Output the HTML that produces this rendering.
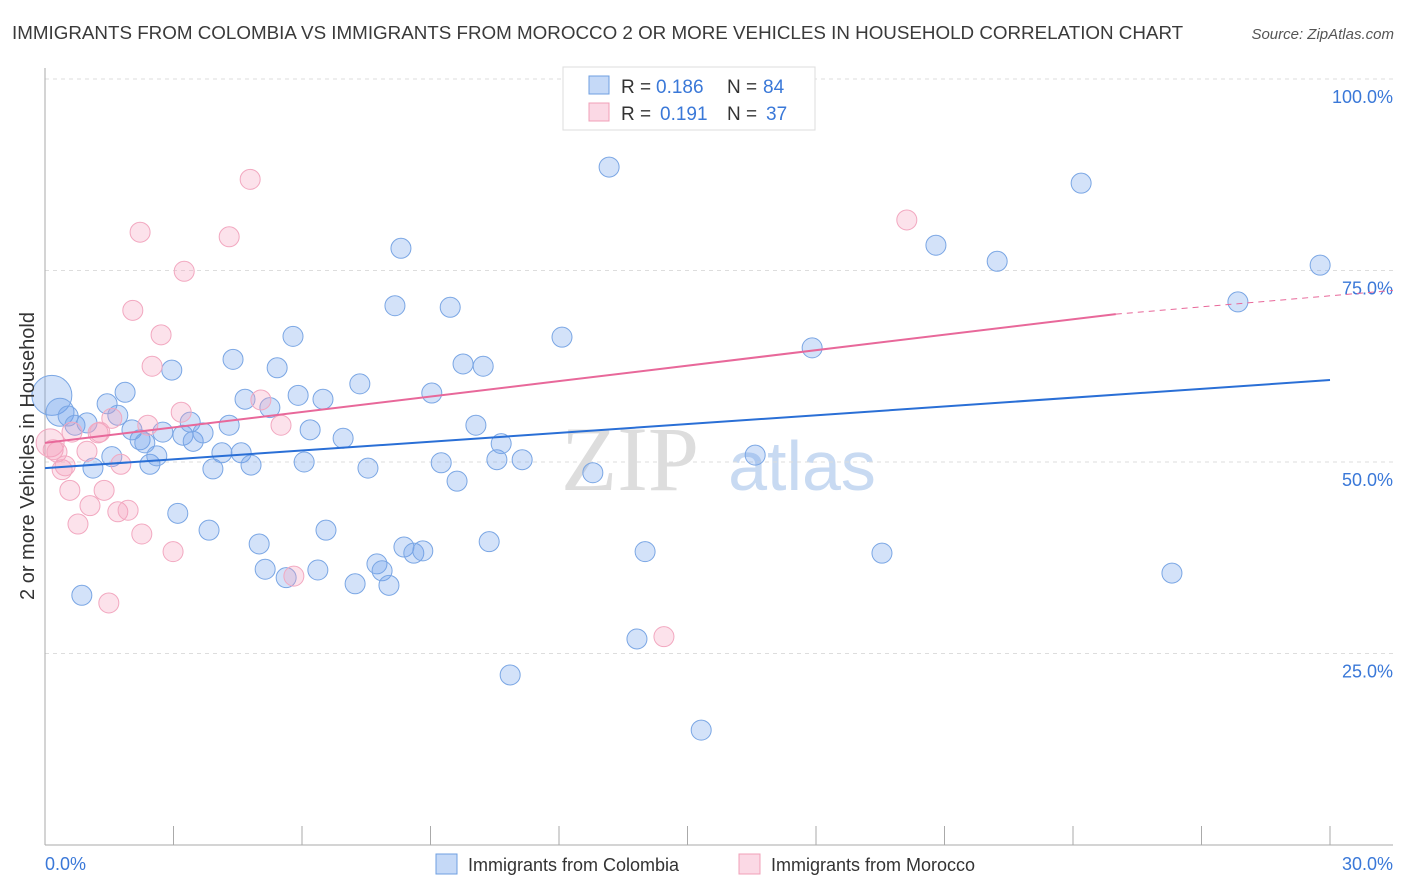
<!DOCTYPE html>
<html><head><meta charset="utf-8"><style>
body{margin:0;background:#fff;font-family:"Liberation Sans",sans-serif;}
#wrap{position:relative;width:1406px;height:892px;overflow:hidden;}
</style></head><body>
<div id="wrap">
<svg id="svg" width="1406" height="892" xmlns="http://www.w3.org/2000/svg">
<text x="12" y="39" font-size="18.8" fill="#3a3a3a">IMMIGRANTS FROM COLOMBIA VS IMMIGRANTS FROM MOROCCO 2 OR MORE VEHICLES IN HOUSEHOLD CORRELATION CHART</text>
<text x="1394" y="39" font-size="15" fill="#555" font-style="italic" text-anchor="end">Source: ZipAtlas.com</text>
<text x="630" y="490" font-size="92" fill="#ddd" font-family="Liberation Serif,serif" text-anchor="middle">ZIP</text>
<text x="802" y="490" font-size="70" fill="#c8daf2" text-anchor="middle">atlas</text>
<g id="grid"></g><g id="axes"></g><g id="pts"></g><g id="lines"></g>
<text transform="translate(34,456) rotate(-90)" font-size="20" fill="#333" text-anchor="middle">2 or more Vehicles in Household</text>
<g>
<rect x="563" y="67" width="252" height="63" fill="#fff" stroke="#ddd"/>
<rect x="589" y="76" width="20" height="18" fill="rgba(110,160,235,0.4)" stroke="#6f9fe0"/>
<rect x="589" y="103" width="20" height="18" fill="rgba(245,160,190,0.4)" stroke="#f0a0b8"/>
<text x="621" y="93" font-size="19" fill="#333">R =</text>
<text x="656" y="93" font-size="19" fill="#3a78d8">0.186</text>
<text x="727" y="93" font-size="19" fill="#333">N =</text>
<text x="763" y="93" font-size="19" fill="#3a78d8">84</text>
<text x="621" y="120" font-size="19" fill="#333">R =</text>
<text x="660" y="120" font-size="19" fill="#3a78d8">0.191</text>
<text x="727" y="120" font-size="19" fill="#333">N =</text>
<text x="766" y="120" font-size="19" fill="#3a78d8">37</text>
</g>
<g>
<rect x="436" y="854" width="21" height="20" fill="rgba(110,160,235,0.4)" stroke="#6f9fe0"/>
<text x="468" y="871" font-size="18" fill="#333">Immigrants from Colombia</text>
<rect x="739" y="854" width="21" height="20" fill="rgba(245,160,190,0.4)" stroke="#f0a0b8"/>
<text x="771" y="871" font-size="18" fill="#333">Immigrants from Morocco</text>
</g>
</svg></div>
<script>
const yTicks=[25,50,75,100];
const yTickLabels=["25.0%","50.0%","75.0%","100.0%"];
const xTickLabels=["0.0%","30.0%"];
const blueX=[0.16,0.35,0.54,0.70,0.98,1.12,0.86,1.45,1.56,1.70,1.87,2.03,2.22,2.33,2.45,2.61,2.75,2.96,3.10,3.22,3.39,3.46,3.69,3.83,3.92,4.13,4.30,4.39,4.58,4.67,4.81,5.00,5.14,5.25,5.42,5.63,5.79,5.91,6.05,6.19,6.37,6.49,6.56,6.96,7.24,7.35,7.54,7.75,7.87,8.03,8.17,8.31,8.38,8.61,8.82,9.03,9.25,9.46,9.62,9.76,10.06,10.23,10.37,10.55,10.65,10.86,11.14,12.07,12.79,13.17,13.82,14.01,15.32,16.58,17.91,19.54,20.80,22.23,24.19,26.31,27.85,29.77];
const blueY=[58.7,56.5,56.0,54.8,55.1,49.2,32.6,57.6,50.7,56.1,59.1,54.2,52.9,52.5,49.7,50.8,53.9,62.0,43.3,53.5,55.2,52.7,53.8,41.1,49.1,51.2,54.8,63.4,51.2,58.2,49.6,39.3,36.0,57.1,62.3,34.9,66.4,58.7,50.0,54.2,35.9,58.2,41.1,53.1,34.1,60.2,49.2,36.7,35.8,33.9,70.4,77.9,38.9,38.1,38.4,59.0,49.9,70.2,47.5,62.8,54.8,62.5,39.6,50.3,52.4,22.2,50.3,66.3,48.6,88.5,26.9,38.3,15.0,50.9,64.9,38.1,78.3,76.2,86.4,35.5,70.9,75.7];
const blueR=[20,14];
const pinkX=[0.12,0.19,0.28,0.40,0.47,0.58,0.77,0.98,1.05,1.24,1.38,1.49,1.56,1.70,1.77,1.94,2.05,2.22,2.26,2.40,2.50,2.71,2.99,3.18,3.25,4.30,4.79,5.04,5.51,5.81,14.45,20.12,1.28,0.63];
const pinkY=[52.5,51.6,51.3,49.0,49.5,46.3,41.9,51.4,44.3,53.8,46.3,31.6,55.7,43.5,49.7,43.7,69.8,80.0,40.6,54.8,62.5,66.6,38.3,56.5,74.9,79.4,86.9,58.1,54.8,35.1,27.2,81.6,53.9,53.9];
const pinkR=[14];
const blueTrend=[49.2,60.7];
const pinkTrend=[52.5,69.3,72.4];
const pinkSolidEnd=25;
const NS="http://www.w3.org/2000/svg";
const X0=45,X1=1330,Y0=845,Y100=79;
const sx=v=>X0+(v/30)*(X1-X0);
const sy=v=>Y0-(v/100)*(Y0-Y100);
function mk(tag,attrs,parent){const e=document.createElementNS(NS,tag);for(const k in attrs)e.setAttribute(k,attrs[k]);parent.appendChild(e);return e;}
const grid=document.getElementById('grid'),axes=document.getElementById('axes'),pts=document.getElementById('pts'),lines=document.getElementById('lines');
yTicks.forEach((t,i)=>{
 const l=mk('line',{x1:X0,x2:1393,y1:sy(t),y2:sy(t),stroke:'#ddd','stroke-dasharray':'4,4'},grid);
 
 
 const tx=mk('text',{x:1393,y:sy(t)+24,'font-size':18,fill:'#3a78d8','text-anchor':'end'},grid);
 tx.textContent=yTickLabels[i];
 
 
});
const ax=mk('line',{x1:X0,x2:X0,y1:68,y2:Y0,stroke:'#aaa'},axes);


const bx=mk('line',{x1:X0,x2:1393,y1:Y0,y2:Y0,stroke:'#aaa'},axes);


for(let i=0;i<=10;i++){
 const t=mk('line',{x1:sx(i*3),x2:sx(i*3),y1:826,y2:Y0,stroke:'#aaa'},axes);
 
 
}
[[0,'start',45],[30,'end',1393]].forEach((d,i)=>{
 const t=mk('text',{x:d[2],y:870,'font-size':18,fill:'#3a78d8','text-anchor':d[1]},axes);
 t.textContent=xTickLabels[i];
 
 
});
blueX.forEach((x,i)=>{
 const c=mk('circle',{cx:sx(x),cy:sy(blueY[i]),r:blueR[i]||10,fill:'rgba(110,160,235,0.3)',stroke:'#7aa6e4','stroke-width':1},pts);
 
 
});
pinkX.forEach((x,i)=>{
 const c=mk('circle',{cx:sx(x),cy:sy(pinkY[i]),r:pinkR[i]||10,fill:'rgba(245,160,190,0.3)',stroke:'#f2a8c0','stroke-width':1},pts);
 
 
});
const bl=mk('line',{x1:sx(0),y1:sy(blueTrend[0]),x2:sx(30),y2:sy(blueTrend[1]),stroke:'#2a6fd6','stroke-width':2},lines);


const pl=mk('line',{x1:sx(0),y1:sy(pinkTrend[0]),x2:sx(pinkSolidEnd),y2:sy(pinkTrend[1]),stroke:'#e8689a','stroke-width':2},lines);


const pd=mk('line',{x1:sx(pinkSolidEnd),y1:sy(pinkTrend[1]),x2:1393,y2:sy(pinkTrend[2]),stroke:'#e8689a','stroke-width':1,'stroke-dasharray':'6,5'},lines);


</script>
</body></html>
